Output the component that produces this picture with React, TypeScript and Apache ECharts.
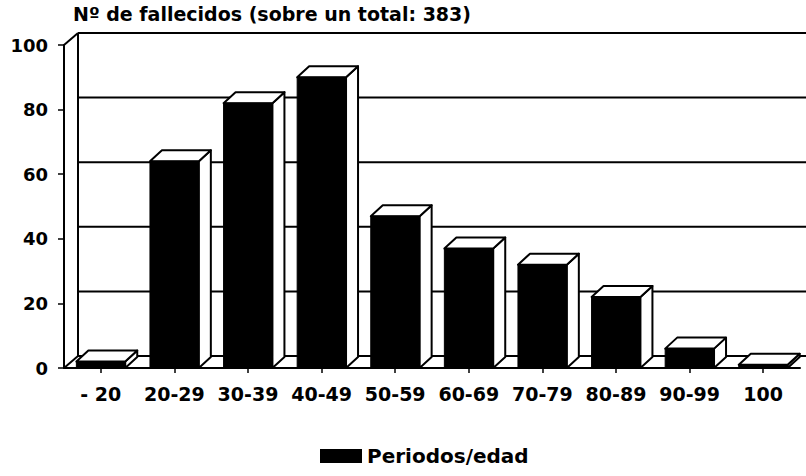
import React, { useEffect, useRef } from "react";
import * as echarts from "echarts";

const categories = ["- 20", "20-29", "30-39", "40-49", "50-59", "60-69", "70-79", "80-89", "90-99", "100"];
const deaths = [2, 64, 82, 90, 47, 37, 32, 22, 6, 1];
const yTicks = [0, 20, 40, 60, 80, 100];
const titleText = "Nº de fallecidos (sobre un total: 383)";
const seriesName = "Periodos/edad";

const FONT = "DejaVu Sans";
const WX = 14, WY = 12; // back wall depth
const BX = 12, BY = 11; // bar depth

export default function App() {
  const ref = useRef<HTMLDivElement>(null);
  useEffect(() => {
    if (!ref.current) return;
    const chart = echarts.init(ref.current, null, { renderer: "svg" });
    const lineStyle = { stroke: "#000", lineWidth: 2 };
    chart.setOption({
      animation: false,
      backgroundColor: "#fff",
      title: {
        text: titleText,
        left: 73,
        top: 4,
        padding: 0,
        textStyle: { fontFamily: FONT, fontWeight: "bold", fontSize: 19, color: "#000" },
      },
      legend: {
        data: [seriesName],
        left: 320,
        top: 446,
        padding: 0,
        icon: "rect",
        itemWidth: 42,
        itemHeight: 14,
        itemGap: 6,
        textStyle: { fontFamily: FONT, fontWeight: "bold", fontSize: 20, color: "#000" },
      },
      grid: { left: 64, right: 6, top: 45, bottom: 108, containLabel: false },
      xAxis: {
        type: "category",
        data: categories,
        boundaryGap: true,
        axisLine: { show: true, lineStyle: { color: "#000", width: 2 } },
        axisTick: { show: true, alignWithLabel: true, length: 5, lineStyle: { color: "#000", width: 1.5 } },
        axisLabel: { margin: 16, fontFamily: FONT, fontWeight: "bold", fontSize: 19, color: "#000", interval: 0 },
        splitLine: { show: false },
      },
      yAxis: {
        type: "value",
        min: 0,
        max: 100,
        interval: 20,
        axisLine: { show: true, lineStyle: { color: "#000", width: 2 } },
        axisTick: { show: true, length: 6, lineStyle: { color: "#000", width: 1.5 } },
        axisLabel: { margin: 16, fontFamily: FONT, fontWeight: "bold", fontSize: 18, color: "#000" },
        splitLine: { show: false },
      },
      series: [
        {
          name: "wall",
          type: "custom",
          clip: false,
          silent: true,
          z: 1,
          data: yTicks.map((v) => [0, v]),
          renderItem: (params: any, api: any) => {
            const cs = params.coordSys;
            const v = api.value(1);
            const y = api.coord([0, v])[1];
            const children: any[] = [
              {
                type: "line",
                shape: { x1: cs.x + WX, y1: y - WY, x2: cs.x + cs.width + WX, y2: y - WY },
                style: lineStyle,
              },
            ];
            if (v === yTicks[yTicks.length - 1]) {
              children.push({
                type: "line",
                shape: { x1: cs.x, y1: y, x2: cs.x + WX, y2: y - WY },
                style: lineStyle,
              });
            }
            if (v === 0) {
              children.push({
                type: "line",
                shape: { x1: cs.x, y1: y, x2: cs.x + WX, y2: y - WY },
                style: lineStyle,
              });
              children.push({
                type: "line",
                shape: { x1: cs.x + WX, y1: y - WY, x2: cs.x + WX, y2: cs.y - WY },
                style: lineStyle,
              });
            }
            return { type: "group", children };
          },
        },
        {
          name: seriesName,
          type: "custom",
          clip: false,
          z: 2,
          itemStyle: { color: "#000" },
          data: deaths.map((v, i) => [i, v]),
          renderItem: (params: any, api: any) => {
            const idx = api.value(0);
            const val = api.value(1);
            const base = api.coord([idx, 0]);
            const top = api.coord([idx, val]);
            const w = api.size([1, 0])[0] * 0.664;
            const x0 = base[0] - w / 2;
            const x1 = base[0] + w / 2;
            const yb = base[1];
            const yt = top[1];
            const faceStyle = { fill: "#fff", stroke: "#000", lineWidth: 2, lineJoin: "round" };
            return {
              type: "group",
              children: [
                {
                  type: "polygon",
                  shape: { points: [[x1, yt], [x1 + BX, yt - BY], [x1 + BX, yb - BY], [x1, yb]] },
                  style: faceStyle,
                },
                {
                  type: "polygon",
                  shape: { points: [[x0, yt], [x1, yt], [x1 + BX, yt - BY], [x0 + BX, yt - BY]] },
                  style: faceStyle,
                },
                {
                  type: "rect",
                  shape: { x: x0, y: yt, width: w, height: yb - yt },
                  style: { fill: "#000", stroke: "#000", lineWidth: 1 },
                },
              ],
            };
          },
        },
      ],
    });
    return () => chart.dispose();
  }, []);
  return (
    <div
      ref={ref}
      style={{ position: "absolute", left: 0, top: 0, width: 806, height: 476, background: "#fff" }}
    />
  );
}
